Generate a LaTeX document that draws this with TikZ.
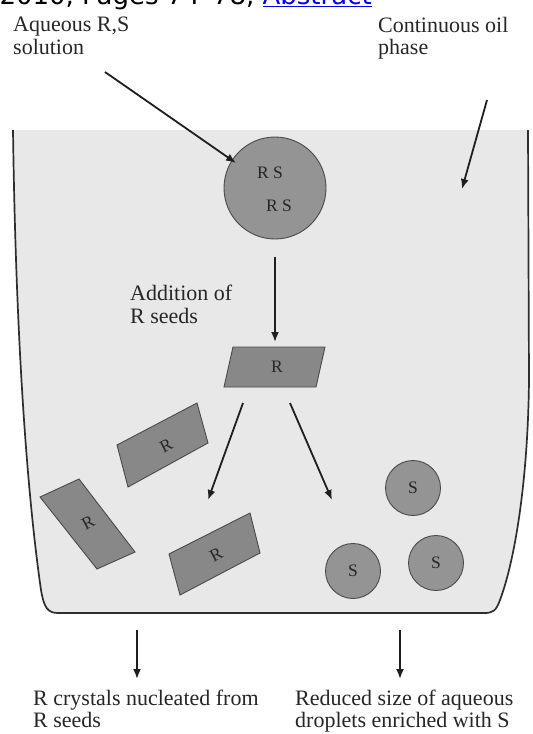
\documentclass[tikz,border=0pt]{standalone}
\usepackage{fontspec}
\setmainfont{Liberation Serif}
\newfontfamily\websans{DejaVu Sans}
\usetikzlibrary{arrows.meta}
\definecolor{oilgray}{HTML}{E8E8E8}
\definecolor{rectgray}{HTML}{888888}
\definecolor{dropgray}{HTML}{949494}
\definecolor{edgegray}{HTML}{4A4A4A}
\definecolor{labelgray}{HTML}{262626}
\definecolor{linkblue}{HTML}{0000EE}
\begin{document}
\begin{tikzpicture}[x=1pt,y=-1pt,
  lbl/.style={font=\fontsize{22}{22.5}\selectfont, text=labelgray, align=left, inner sep=0pt, anchor=north west},
  lblb/.style={lbl, font=\fontsize{22}{21.5}\selectfont},
  arr/.style={draw=black!88, line width=1.8pt, -{Latex[length=10pt,width=8pt]}},
  rectshape/.style={fill=rectgray, draw=edgegray, line width=0.9pt},
  drop/.style={circle, fill=dropgray, draw=edgegray, line width=0.9pt, inner sep=0pt},
  intext/.style={font=\fontsize{17.5}{17.5}\selectfont, text=black!85, inner sep=0pt},
  wall/.style={draw=black!82, line width=1.7pt},
]
\useasboundingbox (0,0) rectangle (533,734);
\begin{scope}
\clip (0,0) rectangle (533,734);
\node[anchor=base east, font=\websans\fontsize{26}{26}\selectfont, inner sep=0pt] (cite) at (372,4) {2010, Pages 74–78, \textcolor{linkblue}{\underline{Abstract}}};
\end{scope}

% container
\fill[oilgray] (13,130) .. controls (16,350) and (28,500) .. (41,590)
  .. controls (44,608) and (48,613) .. (58,613) -- (484,613)
  .. controls (493,613) and (496,611) .. (500,600)
  .. controls (515,560) and (528,480) .. (529,380) -- (528,130) -- cycle;
\draw[wall] (13,130) .. controls (16,350) and (28,500) .. (41,590)
  .. controls (44,608) and (48,613) .. (58,613) -- (484,613)
  .. controls (493,613) and (496,611) .. (500,600)
  .. controls (515,560) and (528,480) .. (529,380) -- (528,130);

% labels
\node[lbl] (aq) at (13,17) {Aqueous R,S\\solution};
\node[lbl] (oil) at (378,17) {Continuous oil\\phase};
\node[lbl] (add) at (130,285) {Addition of\\R seeds};
\node[lblb] (rcry) at (33,690) {R crystals nucleated from\\R seeds};
\node[lblb] (red) at (295,690) {Reduced size of aqueous\\droplets enriched with S};

% RS droplet
\node[drop, minimum size=102pt] (rs) at (275,188) {};
\node[intext] (rs1) at (270,173) {R S};
\node[intext] (rs2) at (279,206) {R S};

% seed
\draw[rectshape] (233,347) -- (325,347) -- (316,387) -- (224,387) -- cycle;
\node[intext] (seed) at (277,367) {R};

% crystals
\draw[rectshape] (117,445) -- (197,403) -- (208,443) -- (128,487) -- cycle;
\node[intext, rotate=28] (r1) at (166,446) {R};
\draw[rectshape] (40,497) -- (79,479) -- (135,552) -- (97,569) -- cycle;
\node[intext, rotate=28] (r2) at (88,523) {R};
\draw[rectshape] (169,554) -- (250,513) -- (260,553) -- (180,595) -- cycle;
\node[intext, rotate=28] (r3) at (216,555) {R};

% S droplets
\node[drop, minimum size=55pt] (s1) at (413,488) {};
\node[intext] at (s1) {S};
\node[drop, minimum size=55pt] (s2) at (353,571) {};
\node[intext] at (s2) {S};
\node[drop, minimum size=55pt] (s3) at (436,563) {};
\node[intext] at (s3) {S};

% arrow coordinates
\coordinate (a1s) at (105,72);   \coordinate (a1e) at (236,163);
\coordinate (a2s) at (487,100);  \coordinate (a2e) at (462,189);
\coordinate (a3s) at (275,257);  \coordinate (a3e) at (275,342);
\coordinate (a4s) at (243,403);  \coordinate (a4e) at (208,500);
\coordinate (a5s) at (290,403);  \coordinate (a5e) at (332,500);
\coordinate (a6s) at (137,630);  \coordinate (a6e) at (137,679);
\coordinate (a7s) at (400,630);  \coordinate (a7e) at (400,679);

\draw[arr] (a1s) -- (a1e);
\draw[arr] (a2s) -- (a2e);
\draw[arr] (a3s) -- (a3e);
\draw[arr] (a4s) -- (a4e);
\draw[arr] (a5s) -- (a5e);
\draw[arr] (a6s) -- (a6e);
\draw[arr] (a7s) -- (a7e);
\end{tikzpicture}
\end{document}
